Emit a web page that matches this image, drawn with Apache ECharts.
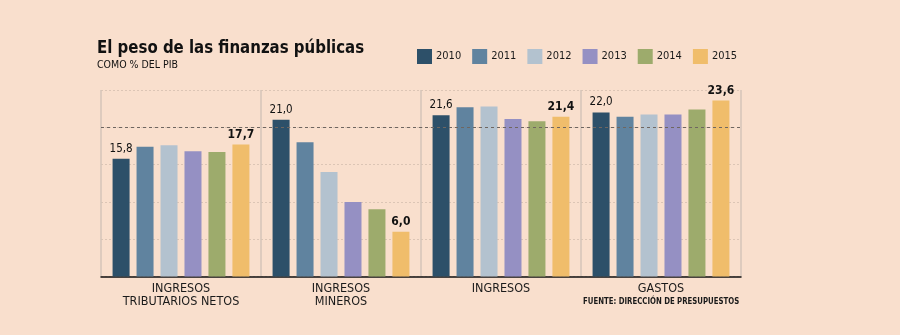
<!DOCTYPE html>
<html><head><meta charset="utf-8">
<script src="https://cdn.jsdelivr.net/npm/echarts@6/dist/echarts.min.js"></script>
<style>html,body{margin:0;padding:0;background:#f9dfcd;}#c{width:900px;height:335px;}</style>
</head><body><div id="c"></div>
<script>
var categories = ['INGRESOS\nTRIBUTARIOS NETOS', 'INGRESOS\nMINEROS', 'INGRESOS', 'GASTOS'];
var years = ['2010', '2011', '2012', '2013', '2014', '2015'];
var v2010 = [15.8, 21.0, 21.6, 22.0];
var v2011 = [17.4, 18.0, 22.7, 21.4];
var v2012 = [17.6, 14.0, 22.8, 21.7];
var v2013 = [16.8, 10.0, 21.1, 21.7];
var v2014 = [16.7, 9.0, 20.8, 22.4];
var v2015 = [17.7, 6.0, 21.4, 23.6];
var colors = ['#2d5069', '#60839f', '#b3c2cf', '#9590c3', '#9dab6c', '#f0bd6b'];
var seriesValues = [v2010, v2011, v2012, v2013, v2014, v2015];

var FN = '"DejaVu Sans Condensed", "Liberation Sans Narrow", sans-serif';
var FV = '"DejaVu Sans Condensed", sans-serif';

function fmt(p) { return p.value.toFixed(1).replace('.', ','); }

var series = seriesValues.map(function (vals, i) {
  var s = {
    name: years[i], type: 'bar', data: vals, barWidth: 17, barGap: '41%',
    itemStyle: { color: colors[i] },
    emphasis: { disabled: true }
  };
  if (i === 0 || i === 5) {
    s.label = { show: true, position: 'top', distance: 4, formatter: fmt,
      fontFamily: FV, fontSize: i === 5 ? 12 : 11.5, fontWeight: i === 5 ? 'bold' : 'normal', color: '#111' };
  }
  if (i === 0) {
    s.markLine = { silent: true, symbol: 'none', label: { show: false },
      lineStyle: { color: '#6f6660', type: [3, 3], width: 1 },
      data: [{ yAxis: 20 }] };
  }
  return s;
});

var chart = echarts.init(document.getElementById('c'));
chart.setOption({
  backgroundColor: '#f9dfcd',
  animation: false,
  grid: { left: 101, right: 159, top: 90, bottom: 58.5 },
  legend: {
    left: 417, top: 49, padding: 0, itemWidth: 15, itemHeight: 15, itemGap: 11, icon: 'rect',
    data: years, selectedMode: false,
    textStyle: { fontFamily: FN, fontSize: 11, color: '#1a1a1a', padding: [0, 0, 0, -1] }
  },
  xAxis: {
    type: 'category', data: categories,
    axisLine: { lineStyle: { color: '#111', width: 1.5 } },
    axisTick: { show: false },
    splitLine: { show: true, lineStyle: { color: '#d5c5b9', width: 1.5 } },
    axisLabel: { margin: 6, fontFamily: FN, fontSize: 12.5, lineHeight: 13, color: '#1a1a1a' }
  },
  yAxis: {
    type: 'value', min: 0, max: 25, interval: 5,
    axisLabel: { show: false }, axisLine: { show: false }, axisTick: { show: false },
    splitLine: { show: true, lineStyle: { color: '#dcc5b5', type: [2, 2], width: 1 } }
  },
  graphic: [
    { type: 'text', x: 97, y: 39, scaleX: 0.9, style: { text: 'El peso de las finanzas públicas', font: 'bold 18.5px ' + FN, fill: '#111', verticalAlign: 'top' } },
    { type: 'text', x: 97, y: 60, style: { text: 'COMO % DEL PIB', font: '10.5px ' + FN, fill: '#111', verticalAlign: 'top' } },
    { type: 'text', x: 583, y: 297.5, scaleX: 0.91, style: { text: 'FUENTE: DIRECCIÓN DE PRESUPUESTOS', font: 'bold 8.5px ' + FN, fill: '#1a1a1a', verticalAlign: 'top' } }
  ],
  series: series
});
</script></body></html>
